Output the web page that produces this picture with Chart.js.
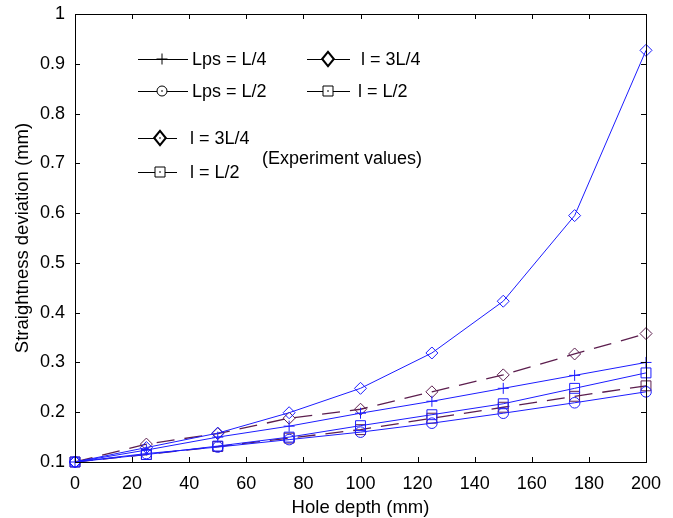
<!DOCTYPE html>
<html>
<head>
<meta charset="utf-8">
<script src="https://cdn.jsdelivr.net/npm/chart.js@4/dist/chart.umd.min.js"></script>
<style>
html,body{margin:0;padding:0;background:#fff;}
#wrap{width:673px;height:518px;position:relative;}
</style>
</head>
<body>
<div id="wrap"><canvas id="c" width="673" height="518"></canvas></div>
<script>
const holeDepth = [0, 25, 50, 75, 100, 125, 150, 175, 200];
const simLpsQuarter = [0.1, 0.124, 0.15, 0.172, 0.198, 0.222, 0.248, 0.274, 0.3];
const simLpsHalf = [0.1, 0.117, 0.13, 0.145, 0.16, 0.178, 0.198, 0.219, 0.241];
const simL34 = [0.1, 0.129, 0.158, 0.199, 0.248, 0.319, 0.423, 0.595, 0.927];
const simLHalf = [0.1, 0.115, 0.132, 0.15, 0.173, 0.195, 0.217, 0.248, 0.279];
const expL34 = [0.1, 0.136, 0.157, 0.188, 0.206, 0.241, 0.275, 0.317, 0.358];
const expLHalf = [0.1, 0.115, 0.131, 0.148, 0.165, 0.188, 0.21, 0.232, 0.253];
const legendLabels = ['Lps = L/4', 'Lps = L/2', 'l = 3L/4', 'l = L/2', 'l = 3L/4', 'l = L/2'];
const experimentNote = '(Experiment values)';
const xTitle = 'Hole depth (mm)';
const yTitle = 'Straightness deviation (mm)';

const BLUE = 'rgb(28,28,255)';
const PURPLE = 'rgb(92,30,78)';
const FONT = '"Liberation Sans", Arial, Helvetica, sans-serif';

function pts(arr){ return arr.map((v,i)=>({x:holeDepth[i], y:v})); }
function ds(label, data, color, style, radius, dashed){
  return {
    label, data: pts(data), borderColor: color, backgroundColor: 'rgba(0,0,0,0)',
    borderWidth: dashed ? 1.3 : 1, borderDash: dashed ? [18, 10] : [],
    pointStyle: style, pointRadius: radius, pointBorderColor: color,
    pointBorderWidth: 1, pointBackgroundColor: 'rgba(0,0,0,0)', pointHoverRadius: radius,
    tension: 0, clip: false
  };
}

function diamondPath(ctx, x, y, r){
  ctx.moveTo(x - r*0.9, y); ctx.lineTo(x, y - r*1.1); ctx.lineTo(x + r*0.9, y); ctx.lineTo(x, y + r*1.1); ctx.closePath();
}

function marker(ctx, style, x, y, r, dot){
  ctx.beginPath();
  if (style === 'cross'){
    ctx.moveTo(x - r, y); ctx.lineTo(x + r, y);
    ctx.moveTo(x, y - r); ctx.lineTo(x, y + r);
  } else if (style === 'circle'){
    ctx.arc(x, y, r, 0, Math.PI*2);
  } else if (style === 'rectRot'){
    diamondPath(ctx, x, y, r);
  } else if (style === 'rect'){
    ctx.rect(x - r, y - r, 2*r, 2*r);
  }
  ctx.stroke();
  if (dot){ ctx.fillRect(x - 0.7, y - 0.7, 1.4, 1.4); }
}

const boxPlugin = {
  id: 'box',
  afterDraw(chart){
    const {ctx, chartArea:a, scales:{x, y}} = chart;
    ctx.save();
    ctx.strokeStyle = '#000'; ctx.lineWidth = 1;
    ctx.strokeRect(Math.round(a.left)+0.5, Math.round(a.top)+0.5, Math.round(a.right-a.left), Math.round(a.bottom-a.top));
    const L = 5;
    ctx.beginPath();
    x.ticks.forEach(t => {
      const px = Math.round(x.getPixelForValue(t.value)) + 0.5;
      ctx.moveTo(px, a.bottom); ctx.lineTo(px, a.bottom - L);
      ctx.moveTo(px, a.top); ctx.lineTo(px, a.top + L);
    });
    y.ticks.forEach(t => {
      const py = Math.round(y.getPixelForValue(t.value)) + 0.5;
      ctx.moveTo(a.left, py); ctx.lineTo(a.left + L, py);
      ctx.moveTo(a.right, py); ctx.lineTo(a.right - L, py);
    });
    ctx.stroke();

    // legend
    ctx.fillStyle = '#000';
    ctx.font = '18px ' + FONT;
    ctx.textBaseline = 'middle';
    ctx.textAlign = 'left';
    const items = [
      {x1:138, x2:188, mx:162, tx:192, y:59, st:'cross', r:5.5, dot:false, t:legendLabels[0]},
      {x1:138, x2:188, mx:162, tx:192, y:91, st:'circle', r:5, dot:true, t:legendLabels[1]},
      {x1:307, x2:350, mx:328, tx:361, y:59, st:'rectRot', r:6.5, dot:false, t:legendLabels[2]},
      {x1:307, x2:350, mx:328, tx:358, y:91, st:'rect', r:5, dot:true, t:legendLabels[3]},
      {x1:138, x2:177, mx:160, tx:190, y:138, st:'rectRot', r:6.5, dot:true, t:legendLabels[4]},
      {x1:138, x2:177, mx:160, tx:190, y:172, st:'rect', r:5, dot:true, t:legendLabels[5]}
    ];
    items.forEach(it => {
      ctx.lineWidth = 1;
      ctx.beginPath(); ctx.moveTo(it.x1, it.y + 0.5); ctx.lineTo(it.x2, it.y + 0.5); ctx.stroke();
      ctx.lineWidth = it.st === 'rectRot' ? 2 : 1;
      ctx.fillStyle = '#fff';
      ctx.beginPath();
      if (it.st === 'rect') ctx.rect(it.mx - it.r, it.y - it.r, 2*it.r, 2*it.r);
      else if (it.st === 'circle') ctx.arc(it.mx, it.y, it.r, 0, Math.PI*2);
      else if (it.st === 'rectRot') diamondPath(ctx, it.mx, it.y, it.r);
      if (it.st !== 'cross') ctx.fill();
      ctx.fillStyle = '#000';
      marker(ctx, it.st, it.mx, it.y, it.r, it.dot);
      ctx.fillText(it.t, it.tx, it.y + 1);
    });
    ctx.fillText(experimentNote, 262, 159);
    ctx.restore();
  }
};

new Chart(document.getElementById('c'), {
  type: 'line',
  data: {
    datasets: [
      ds(legendLabels[2], simL34, BLUE, 'rectRot', 6, false),
      ds(legendLabels[0], simLpsQuarter, BLUE, 'cross', 5.5, false),
      ds(legendLabels[3], simLHalf, BLUE, 'rect', 7, false),
      ds(legendLabels[1], simLpsHalf, BLUE, 'circle', 5.3, false),
      ds(legendLabels[4], expL34, PURPLE, 'rectRot', 6, true),
      ds(legendLabels[5], expLHalf, PURPLE, 'rect', 7, true)
    ]
  },
  options: {
    responsive: false,
    animation: false,
    devicePixelRatio: 1,
    layout: {padding: {top: 14, right: 27, left: 0, bottom: 0}},
    plugins: {legend: {display: false}, tooltip: {enabled: false}, title: {display: false}},
    scales: {
      x: {
        type: 'linear', min: 0, max: 200,
        ticks: {stepSize: 20, color: '#000', font: {size: 18, family: FONT}, padding: 11, maxRotation: 0},
        grid: {display: false, drawTicks: false},
        border: {display: true, color: '#000', width: 1},
        title: {display: true, text: xTitle, color: '#000', font: {size: 18.5, family: FONT, lineHeight: 1.1}, padding: {top: 0, bottom: 0}},
        afterFit(s){ s.height = 56; s.paddingLeft = 0; s.paddingRight = 0; }
      },
      y: {
        type: 'linear', min: 0.1, max: 1,
        ticks: {stepSize: 0.1, color: '#000', font: {size: 18, family: FONT}, padding: 10,
          callback: v => String(Math.round(v*10)/10)},
        grid: {display: false, drawTicks: false},
        border: {display: true, color: '#000', width: 1},
        title: {display: true, text: yTitle, color: '#000', font: {size: 18.5, family: FONT, lineHeight: 1.1}, padding: {top: 13, bottom: 0}},
        afterFit(s){ s.width = 75; s.paddingTop = 0; s.paddingBottom = 0; }
      }
    }
  },
  plugins: [boxPlugin]
});
</script>
</body>
</html>
